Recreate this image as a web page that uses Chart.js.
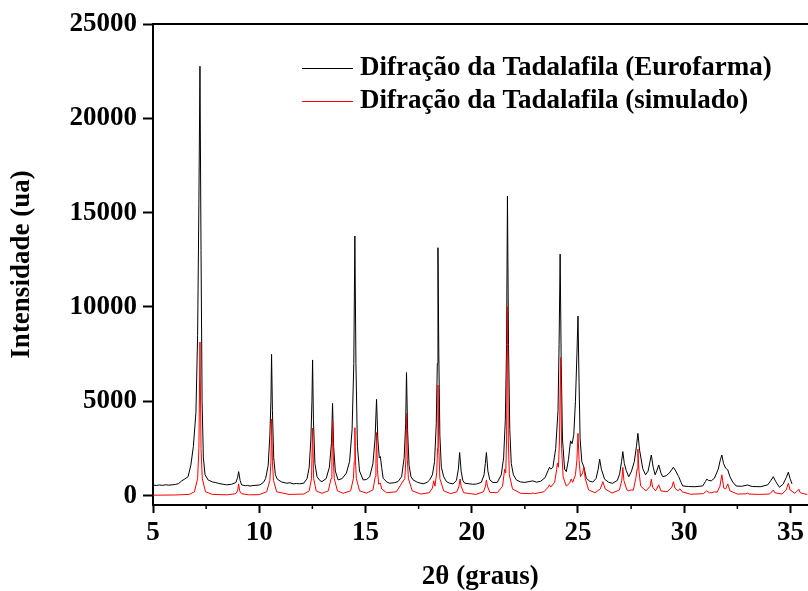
<!DOCTYPE html>
<html>
<head>
<meta charset="utf-8">
<script src="https://cdn.jsdelivr.net/npm/chart.js@4.4.1/dist/chart.umd.min.js"></script>
<style>
  html, body { margin: 0; padding: 0; background: #fff; overflow: hidden; }
  canvas { display: block; }
</style>
</head>
<body>
<canvas id="xrdChart" width="808" height="591"></canvas>
<script>
// axis ticks
const thetaTicks = [5, 10, 15, 20, 25, 30, 35];
const thetaMinorTicks = [7.5, 12.5, 17.5, 22.5, 27.5, 32.5];
const intensityTicks = [0, 5000, 10000, 15000, 20000, 25000];

const seriesLabels = [
  "Difração da Tadalafila (Eurofarma)",
  "Difração da Tadalafila (simulado)"
];

// measured pattern, [2θ, counts]
const eurofarma = [
  [5.00, 560], [5.15, 535], [5.30, 560], [5.45, 540], [5.60, 575], [5.75, 550], [5.90, 570], [6.05, 590],
  [6.20, 630], [6.35, 780], [6.50, 880], [6.65, 1000], [6.78, 1600], [6.90, 2600], [7.02, 4400], [7.10, 8500],
  [7.16, 15500], [7.21, 22760], [7.26, 13000], [7.31, 5000], [7.37, 2000], [7.45, 1100], [7.60, 820], [7.80, 720],
  [7.95, 690], [8.10, 640], [8.30, 600], [8.46, 567], [8.70, 600], [8.90, 690], [8.98, 950], [9.03, 1270],
  [9.10, 800], [9.17, 567], [9.35, 520], [9.45, 540], [9.56, 505], [9.70, 530], [9.85, 545], [10.03, 567],
  [10.20, 700], [10.30, 900], [10.42, 1600], [10.50, 3200], [10.55, 5000], [10.58, 7490], [10.62, 4500], [10.68, 2000],
  [10.76, 1100], [10.85, 870], [11.05, 720], [11.30, 655], [11.45, 680], [11.60, 620], [11.75, 640], [11.90, 625],
  [12.10, 660], [12.25, 900], [12.35, 1500], [12.43, 3000], [12.48, 5000], [12.51, 7190], [12.55, 4000], [12.62, 1700],
  [12.72, 1000], [12.85, 800], [12.95, 740], [13.15, 900], [13.30, 1500], [13.40, 2800], [13.45, 4890], [13.50, 2600],
  [13.58, 1300], [13.71, 830], [13.90, 900], [14.10, 1190], [14.25, 1800], [14.37, 3500], [14.45, 7000], [14.50, 13760],
  [14.55, 7000], [14.62, 2600], [14.72, 1300], [14.89, 830], [15.05, 850], [15.20, 1000], [15.35, 1700], [15.45, 3000],
  [15.52, 5100], [15.58, 3000], [15.65, 2000], [15.70, 2070], [15.76, 1500], [15.83, 920], [16.00, 720], [16.14, 655],
  [16.35, 680], [16.53, 740], [16.70, 1000], [16.82, 2000], [16.89, 3800], [16.93, 6520], [16.98, 3500], [17.05, 1600],
  [17.14, 1000], [17.24, 830], [17.45, 700], [17.71, 620], [17.90, 700], [18.02, 830], [18.15, 1100], [18.25, 1800],
  [18.33, 3800], [18.38, 7000], [18.41, 13140], [18.45, 7500], [18.50, 3200], [18.57, 1500], [18.68, 1000], [18.81, 740],
  [18.95, 660], [19.12, 620], [19.28, 800], [19.37, 1400], [19.43, 2280], [19.50, 1300], [19.58, 800], [19.67, 655],
  [19.90, 620], [20.05, 600], [20.22, 610], [20.45, 700], [20.58, 1100], [20.64, 1700], [20.69, 2280], [20.76, 1300],
  [20.85, 830], [21.00, 690], [21.20, 700], [21.39, 1100], [21.50, 2000], [21.58, 4000], [21.64, 8000], [21.68, 15870],
  [21.73, 8000], [21.79, 3500], [21.86, 1700], [21.96, 1100], [22.10, 830], [22.30, 720], [22.50, 700], [22.70, 740],
  [22.87, 780], [23.05, 710], [23.25, 760], [23.45, 950], [23.60, 1350], [23.66, 1500], [23.72, 1400], [23.82, 1500],
  [23.95, 2500], [24.06, 4500], [24.11, 8000], [24.16, 12800], [24.21, 7000], [24.27, 3000], [24.37, 1400], [24.45, 1270],
  [24.55, 1900], [24.65, 2900], [24.72, 2750], [24.80, 3200], [24.88, 5000], [24.95, 7500], [25.00, 9520], [25.05, 6000],
  [25.10, 3000], [25.18, 1800], [25.28, 1500], [25.39, 920], [25.55, 760], [25.70, 720], [25.85, 900], [25.95, 1400],
  [26.02, 1930], [26.10, 1400], [26.25, 870], [26.45, 700], [26.63, 650], [26.85, 800], [26.96, 1150], [27.05, 1800],
  [27.11, 2330], [27.18, 1700], [27.27, 1330], [27.39, 1000], [27.52, 1300], [27.65, 1800], [27.75, 2600], [27.82, 3300],
  [27.90, 2400], [28.05, 1420], [28.18, 1100], [28.30, 1300], [28.45, 2150], [28.54, 1500], [28.63, 1100], [28.72, 1350],
  [28.80, 1620], [28.90, 1200], [28.99, 1000], [29.15, 1050], [29.30, 1200], [29.49, 1500], [29.60, 1300], [29.74, 1000],
  [29.85, 700], [29.93, 510], [30.20, 480], [30.50, 470], [30.87, 510], [31.00, 750], [31.06, 870], [31.15, 800],
  [31.27, 780], [31.42, 920], [31.60, 1400], [31.70, 1900], [31.77, 2150], [31.85, 1700], [31.95, 1450], [32.05, 1360],
  [32.15, 1000], [32.28, 720], [32.44, 510], [32.70, 490], [32.97, 560], [33.20, 480], [33.60, 470], [33.93, 570],
  [34.08, 800], [34.19, 1000], [34.30, 750], [34.48, 440], [34.65, 600], [34.80, 950], [34.90, 1240], [34.98, 900],
  [35.07, 620]
];

// simulated pattern, [2θ, counts]
const simulado = [
  [5.00, 20], [6.00, 30], [6.70, 60], [6.95, 200], [7.10, 900], [7.16, 2500], [7.21, 8140], [7.26, 2500],
  [7.32, 900], [7.47, 200], [7.80, 60], [8.50, 40], [8.90, 100], [8.98, 250], [9.03, 620], [9.08, 250],
  [9.16, 100], [9.50, 40], [10.00, 50], [10.35, 200], [10.50, 800], [10.55, 1800], [10.58, 4060], [10.62, 1800],
  [10.67, 800], [10.82, 200], [11.40, 60], [12.10, 80], [12.35, 250], [12.46, 900], [12.51, 3580], [12.56, 900],
  [12.68, 250], [12.95, 120], [13.25, 250], [13.38, 900], [13.42, 1800], [13.45, 3950], [13.49, 1800], [13.53, 900],
  [13.68, 250], [13.95, 120], [14.30, 250], [14.43, 900], [14.47, 1800], [14.50, 3600], [14.53, 1800], [14.57, 900],
  [14.72, 250], [15.05, 130], [15.35, 300], [15.46, 1000], [15.49, 1700], [15.52, 3340], [15.56, 1400], [15.62, 600],
  [15.70, 670], [15.76, 350], [16.00, 150], [16.45, 200], [16.85, 900], [16.90, 1900], [16.93, 4360], [16.97, 1900],
  [17.02, 900], [17.20, 250], [17.60, 80], [18.00, 150], [18.15, 400], [18.21, 780], [18.27, 500], [18.35, 1200],
  [18.39, 2500], [18.41, 5860], [18.45, 2500], [18.50, 900], [18.68, 250], [19.00, 100], [19.30, 200], [19.40, 500],
  [19.45, 880], [19.50, 500], [19.62, 150], [20.20, 60], [20.55, 200], [20.65, 500], [20.69, 830], [20.74, 500],
  [20.85, 170], [21.20, 150], [21.45, 500], [21.55, 1400], [21.60, 1200], [21.64, 3000], [21.68, 10010], [21.72, 3000],
  [21.77, 1100], [21.92, 350], [22.30, 120], [22.80, 100], [22.88, 140], [22.95, 100], [23.40, 200], [23.60, 450],
  [23.66, 570], [23.72, 450], [23.90, 700], [24.00, 1400], [24.03, 1720], [24.08, 1500], [24.13, 3000], [24.18, 7310],
  [24.23, 2500], [24.30, 1000], [24.45, 500], [24.60, 650], [24.68, 880], [24.75, 700], [24.88, 1100], [24.95, 1900],
  [25.00, 3300], [25.05, 1900], [25.12, 1000], [25.22, 1200], [25.28, 1500], [25.34, 900], [25.50, 300], [25.80, 150],
  [26.05, 350], [26.17, 740], [26.28, 350], [26.60, 130], [26.95, 300], [27.06, 800], [27.11, 1500], [27.16, 800],
  [27.30, 300], [27.39, 250], [27.51, 300], [27.60, 280], [27.72, 900], [27.78, 1400], [27.82, 2460], [27.87, 1300],
  [27.95, 500], [28.20, 250], [28.40, 500], [28.45, 870], [28.51, 450], [28.65, 250], [28.80, 570], [28.90, 250],
  [29.20, 200], [29.42, 450], [29.49, 740], [29.56, 400], [29.70, 250], [29.80, 360], [29.90, 200], [30.30, 70],
  [30.90, 100], [31.06, 250], [31.18, 150], [31.30, 150], [31.42, 200], [31.55, 180], [31.68, 500], [31.77, 1100],
  [31.86, 400], [31.95, 350], [32.05, 620], [32.15, 250], [32.50, 80], [32.90, 90], [32.97, 130], [33.05, 80],
  [33.50, 60], [34.00, 80], [34.13, 200], [34.19, 300], [34.26, 150], [34.60, 80], [34.80, 300], [34.90, 655],
  [34.98, 300], [35.20, 120], [35.33, 250], [35.39, 340], [35.46, 150], [35.80, 50]
];

const serifBold = (size) => ({ family: '"Liberation Serif", "Times New Roman", serif', size, weight: 'bold' });

// short minor ticks between the labelled ones on the 2θ axis
const minorTicks = {
  id: 'minorTicks',
  afterDraw(chart) {
    const { ctx, chartArea } = chart;
    const x = chart.scales.x;
    ctx.save();
    ctx.strokeStyle = '#000';
    ctx.lineWidth = 1.5;
    thetaMinorTicks.forEach(v => {
      const px = x.getPixelForValue(v);
      ctx.beginPath();
      ctx.moveTo(px, chartArea.bottom);
      ctx.lineTo(px, chartArea.bottom + 4);
      ctx.stroke();
    });
    ctx.restore();
  }
};

// legend inside the frame, upper right
const insideLegend = {
  id: 'insideLegend',
  afterDraw(chart) {
    const { ctx, chartArea } = chart;
    ctx.save();
    ctx.font = 'bold 27px "Liberation Serif", "Times New Roman", serif';
    ctx.textBaseline = 'alphabetic';
    ctx.fillStyle = '#000';
    chart.data.datasets.forEach((ds, row) => {
      const y = chartArea.top + 44 + row * 33;
      const x0 = chartArea.left + 149;
      ctx.strokeStyle = ds.borderColor;
      ctx.lineWidth = 1;
      ctx.beginPath();
      ctx.moveTo(x0, y + 0.5);
      ctx.lineTo(x0 + 51, y + 0.5);
      ctx.stroke();
      ctx.fillText(ds.label, x0 + 58, y + 7);
    });
    ctx.restore();
  }
};

const ctx = document.getElementById('xrdChart');

new Chart(ctx, {
  type: 'line',
  data: {
    datasets: [
      {
        label: seriesLabels[0],
        data: eurofarma.map(([x, y]) => ({ x, y })),
        borderColor: '#000000',
        borderWidth: 1,
        pointRadius: 0,
        order: 1
      },
      {
        label: seriesLabels[1],
        data: simulado.map(([x, y]) => ({ x, y })),
        borderColor: '#ff0000',
        borderWidth: 1,
        pointRadius: 0,
        order: 0
      }
    ]
  },
  options: {
    responsive: false,
    animation: false,
    devicePixelRatio: 1,
    layout: { padding: { top: 24, right: 0, left: 0, bottom: 0 } },
    plugins: { legend: { display: false }, tooltip: { enabled: false } },
    scales: {
      x: {
        type: 'linear',
        position: 'bottom',
        min: 5,
        max: 35.8,
        afterBuildTicks: s => { s.ticks = thetaTicks.map(value => ({ value })); },
        afterFit: s => { s.height = 86; },
        grid: { display: true, drawOnChartArea: false, drawTicks: true, tickLength: 8, tickWidth: 2, tickColor: '#000' },
        border: { display: true, color: '#000', width: 2 },
        ticks: { color: '#000', font: serifBold(27), padding: 4, maxRotation: 0, autoSkip: false, callback: v => String(v) },
        title: {
          display: true,
          text: '2θ (graus)',
          color: '#000',
          font: { ...serifBold(27), lineHeight: 1 },
          padding: { top: 0, bottom: 0 }
        }
      },
      xTop: {
        type: 'linear',
        position: 'top',
        min: 5,
        max: 35.8,
        ticks: { display: false },
        grid: { display: false },
        border: { display: true, color: '#000', width: 2 },
        afterFit: s => { s.height = 0; }
      },
      y: {
        min: -500,
        max: 25000,
        afterBuildTicks: s => { s.ticks = intensityTicks.map(value => ({ value })); },
        afterFit: s => { s.width = 153; },
        grid: { display: true, drawOnChartArea: false, drawTicks: true, tickLength: 10, tickWidth: 2, tickColor: '#000' },
        border: { display: true, color: '#000', width: 2 },
        ticks: { color: '#000', font: serifBold(27), padding: 6, callback: v => String(v) },
        title: {
          display: true,
          text: 'Intensidade (ua)',
          color: '#000',
          font: { ...serifBold(27), lineHeight: 1 },
          padding: { top: 9, bottom: 0 }
        }
      }
    }
  },
  plugins: [minorTicks, insideLegend]
});
</script>
</body>
</html>
